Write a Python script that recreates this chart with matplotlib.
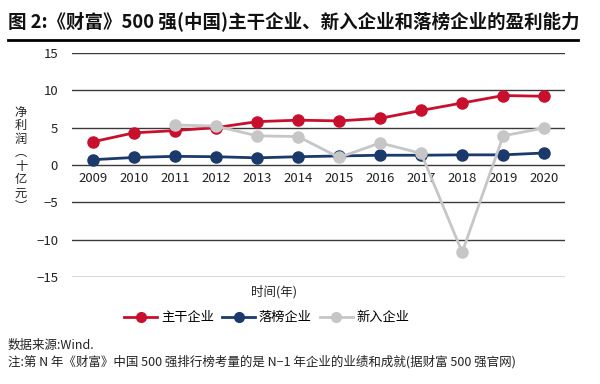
import numpy as np
import matplotlib.pyplot as plt
from matplotlib.lines import Line2D

plt.rcParams['font.family'] = ['Noto Sans CJK SC', 'DejaVu Sans']

years = [2009, 2010, 2011, 2012, 2013, 2014, 2015, 2016, 2017, 2018, 2019, 2020]
core = [3.1, 4.3, 4.6, 5.0, 5.8, 6.0, 5.9, 6.25, 7.3, 8.3, 9.3, 9.2]
dropped = [0.7, 1.0, 1.15, 1.1, 0.95, 1.1, 1.2, 1.3, 1.3, 1.35, 1.35, 1.6]
new_years = [2011, 2012, 2013, 2014, 2015, 2016, 2017, 2018, 2019, 2020]
new_ent = [5.35, 5.2, 3.9, 3.8, 1.0, 2.95, 1.55, -11.7, 3.9, 4.95]
yticks = [-15, -10, -5, 0, 5, 10, 15]

red = '#c8102e'
navy = '#1b3a6b'
grey = '#c6c6c6'

fig = plt.figure(figsize=(6, 3.84), dpi=100)
ax = fig.add_axes([0.12, 0.279, 0.822, 0.583])

for v in yticks:
    ax.axhline(v, color='#3a3a3a', lw=1.0, zorder=1)

ax.plot(years, core, color=red, lw=2, marker='o', ms=8, zorder=3)
ax.plot(years, dropped, color=navy, lw=2, marker='o', ms=8, zorder=3)
ax.plot(new_years, new_ent, color=grey, lw=2, marker='o', ms=8, zorder=4)

ax.set_xlim(2008.49, 2020.51)
ax.set_ylim(-15, 15)
ax.set_yticks(yticks)
ax.set_yticklabels(['\u221215', '\u221210', '\u22125', '0', '5', '10', '15'])
ax.set_xticks(years)
ax.set_xticklabels([str(y) for y in years])
for s in ['top', 'right', 'left']:
    ax.spines[s].set_visible(False)
ax.spines['bottom'].set_position(('data', 0))
ax.spines['bottom'].set_visible(False)
ax.tick_params(axis='both', length=0, labelsize=9.5, colors='#222222')
ax.tick_params(axis='x', pad=5)
ax.tick_params(axis='y', pad=10)

# title
fig.text(0.013, 0.945, '图 2:《财富》500 强(中国)主干企业、新入企业和落榜企业的盈利能力',
         fontsize=13.3, fontweight='bold', va='center', ha='left', color='#111111')
fig.add_artist(Line2D([0.013, 0.963], [0.896, 0.896], color='black', lw=2))

# y label, stacked characters
fig.text(0.035, 0.585, '净\n利\n润\n\ufe35\n十\n亿\n元\n\ufe36', fontsize=8.8,
         ha='center', va='center', linespacing=1.05, color='#222222')

fig.text(0.457, 0.24, '时间(年)', fontsize=9, ha='center', va='center', color='#222222')

handles = [Line2D([], [], color=red, lw=2, marker='o', ms=7),
           Line2D([], [], color=navy, lw=2, marker='o', ms=7),
           Line2D([], [], color=grey, lw=2, marker='o', ms=7)]
fig.legend(handles, ['主干企业', '落榜企业', '新入企业'], loc='center',
           bbox_to_anchor=(0.445, 0.172), ncol=3, frameon=False, fontsize=9.5,
           handlelength=2.5, handletextpad=0.3, columnspacing=0.6)

fig.text(0.013, 0.1, '数据来源:Wind.', fontsize=9, ha='left', va='center', color='#222222')
fig.text(0.013, 0.057, '注:第 N 年《财富》中国 500 强排行榜考量的是 N\u22121 年企业的业绩和成就(据财富 500 强官网)',
         fontsize=9, ha='left', va='center', color='#222222')

fig.savefig('out.png', dpi=100)
